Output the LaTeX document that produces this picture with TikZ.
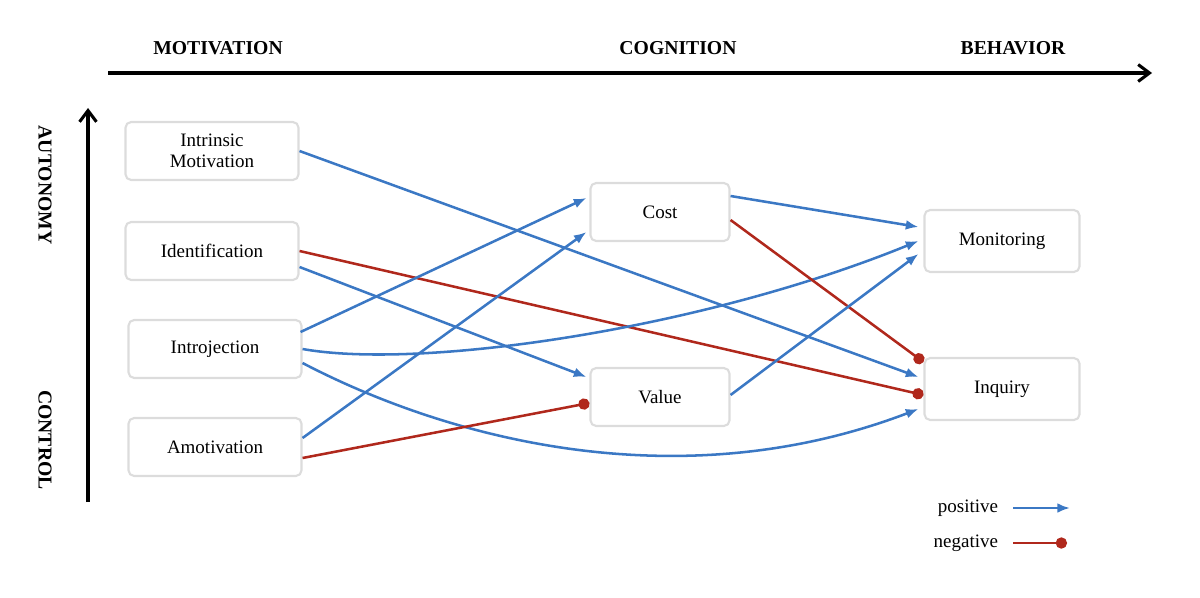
\documentclass[tikz,border=0pt]{standalone}
\usepackage{fontspec}
\setmainfont{Liberation Serif}
\usetikzlibrary{arrows.meta,calc}
\definecolor{pblue}{HTML}{3B78C4}
\definecolor{nred}{HTML}{B0281C}
\definecolor{boxg}{HTML}{DCDCDC}
\begin{document}
\begin{tikzpicture}[x=0.025cm,y=-0.025cm,
  box/.style={draw=boxg,line width=1.5pt,rounded corners=4pt,fill=white,minimum width=173*0.025cm,minimum height=58*0.025cm,align=center,font=\fontsize{13.5}{15}\selectfont},
  posarr/.style={draw=pblue,line width=1.8pt,-{Latex[length=9pt,width=7pt]}},
  negarr/.style={draw=nred,line width=1.8pt,-{Circle[length=8pt,width=8pt]}},
  ax/.style={line width=2.2pt,-{Straight Barb[length=8pt,width=12pt]}},
  hd/.style={font=\bfseries\fontsize{14}{16}\selectfont}]
\useasboundingbox (0,0) rectangle (1200,597);
\node[box] (im) at (212,151) {Intrinsic\\Motivation};
\node[box] (id) at (212,251) {Identification};
\node[box] (ij) at (215,349) {Introjection};
\node[box] (am) at (215,447) {Amotivation};
\node[box,minimum width=139*0.025cm] (co) at (660,212) {Cost};
\node[box,minimum width=139*0.025cm] (va) at (660,397) {Value};
\node[box,minimum width=155*0.025cm,minimum height=62*0.025cm] (mo) at (1002,241) {Monitoring};
\node[box,minimum width=155*0.025cm,minimum height=62*0.025cm] (in) at (1002,389) {Inquiry};
% axes
\coordinate (h0) at (108,73); \coordinate (h1) at (1152,73);
\coordinate (v0) at (88,502); \coordinate (v1) at (88,108);
\draw[ax] (h0) -- (h1);
\draw[ax] (v0) -- (v1);
\node[hd] (tm) at (218,48) {MOTIVATION};
\node[hd] (tc) at (678,48) {COGNITION};
\node[hd] (tb) at (1013,48) {BEHAVIOR};
\node[hd,rotate=-90] (ta) at (45,185) {AUTONOMY};
\node[hd,rotate=-90] (tl) at (45,440) {CONTROL};
% edges
\draw[posarr] (im.east) -- ($(in.west)+(-5,-12)$);
\draw[negarr] (id.east) -- ($(in.west)+(0,6)$);
\draw[posarr] ($(id.east)+(0,16)$) -- ($(va.west)+(-3,-20)$);
\draw[posarr] ($(ij.east)+(-2,-17)$) -- ($(co.west)+(-3,-14)$);
\draw[posarr] (ij.east) .. controls (420,370) and (700,330) .. ($(mo.west)+(-5,0)$);
\draw[posarr] ($(ij.east)+(0,14)$) .. controls (450,440) and (680,500) .. ($(in.west)+(-5,20)$);
\draw[posarr] ($(am.east)+(0,-9)$) -- ($(co.west)+(-3,20)$);
\draw[negarr] ($(am.east)+(0,11)$) -- ($(va.west)+(0,6)$);
\draw[posarr] ($(co.east)+(0,-16)$) -- ($(mo.west)+(-5,-14)$);
\draw[negarr] ($(co.east)+(0,8)$) -- ($(in.west)+(0,-27)$);
\draw[posarr] ($(va.east)+(0,-2)$) -- ($(mo.west)+(-5,13)$);
% legend
\node[font=\fontsize{13.5}{15}\selectfont,anchor=east] (lp) at (1003,508) {positive};
\node[font=\fontsize{13.5}{15}\selectfont,anchor=east] (ln) at (1003,543) {negative};
\coordinate (lp1) at (1070,508); \coordinate (ln1) at (1067,543);
\draw[posarr] ($(lp.east)+(10,0)$) -- (lp1);
\draw[negarr] ($(ln.east)+(10,0)$) -- (ln1);
\end{tikzpicture}
\end{document}
